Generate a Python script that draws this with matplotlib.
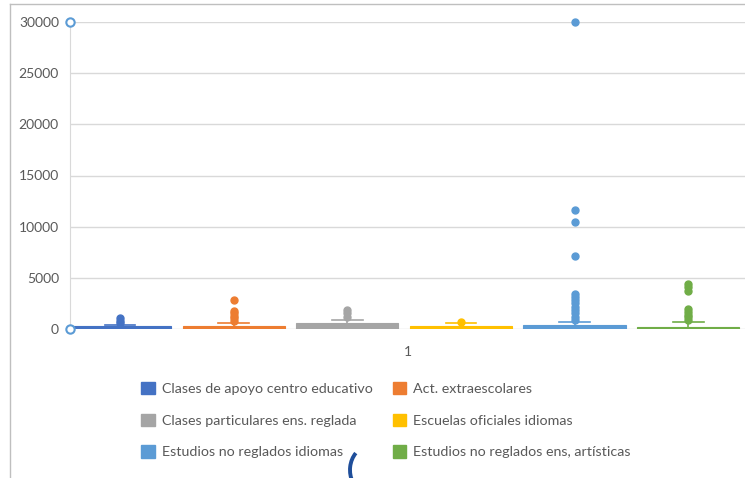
import matplotlib.pyplot as plt
from matplotlib.patches import Patch, Arc
from matplotlib.lines import Line2D

categories = [
    'Clases de apoyo centro educativo',
    'Act. extraescolares',
    'Clases particulares ens. reglada',
    'Escuelas oficiales idiomas',
    'Estudios no reglados idiomas',
    'Estudios no reglados ens, artísticas',
]
colors = ['#4472C4', '#ED7D31', '#A5A5A5', '#FFC000', '#5B9BD5', '#70AD47']

q1 = [20, 20, 20, 20, 20, 20]
medians = [120, 150, 250, 150, 200, 100]
q3 = [280, 280, 560, 280, 430, 220]
whislo = [0, 0, 0, 0, 0, 0]
whishi = [390, 560, 880, 560, 710, 650]
fliers = [
    [1050, 820, 620],
    [2830, 1790, 1530, 1270, 1050, 810],
    [1850, 1550, 1200],
    [640],
    [30000, 11600, 10450, 7150, 3420, 3130, 2830, 2510, 2180, 1860, 1530, 1200, 880],
    [4400, 4070, 3740, 1920, 1630, 1370, 1140, 880],
]
axis_markers = [0, 30000]
yticks = [0, 5000, 10000, 15000, 20000, 25000, 30000]

plt.rcParams['font.family'] = ['Lato', 'DejaVu Sans']
txt = '#595959'

fig = plt.figure(figsize=(7.45, 4.78), dpi=100)
ax = fig.add_axes([70 / 745, 1 - 329 / 478, 675 / 745, 307 / 478])

stats = []
for i in range(len(categories)):
    stats.append({'q1': q1[i], 'med': medians[i], 'q3': q3[i],
                  'whislo': whislo[i], 'whishi': whishi[i],
                  'fliers': fliers[i], 'label': categories[i]})

positions = list(range(1, len(categories) + 1))
for i, s in enumerate(stats):
    c = colors[i]
    ax.bxp([s], positions=[positions[i]], widths=0.9, patch_artist=True,
           showfliers=True,
           boxprops=dict(facecolor=c, edgecolor=c, linewidth=0.8),
           medianprops=dict(color=c, linewidth=0.8),
           whiskerprops=dict(color=c, linewidth=1.2),
           capprops=dict(color=c, linewidth=1.2),
           capwidths=0.27,
           flierprops=dict(marker='o', markerfacecolor=c, markeredgecolor=c,
                           markersize=5, clip_on=False))

xmin, xmax = 0.56, 6.5
ax.plot([xmin] * len(axis_markers), axis_markers, linestyle='none', marker='o',
        markersize=6, markerfacecolor='white', markeredgecolor='#5B9BD5',
        markeredgewidth=1.5, clip_on=False, zorder=5)

ax.set_xlim(xmin, xmax)
ax.set_ylim(0, 30000)
ax.set_yticks(yticks)
ax.set_yticklabels([str(v) for v in yticks])
ax.set_xticks([(xmin + xmax) / 2])
ax.set_xticklabels(['1'])
ax.tick_params(axis='both', length=0, colors=txt, labelsize=10)
ax.tick_params(axis='y', pad=8)
ax.tick_params(axis='x', pad=12)
ax.yaxis.grid(True, color='#d9d9d9', linewidth=1)
ax.set_axisbelow(True)
for side in ['top', 'right', 'bottom']:
    ax.spines[side].set_visible(False)
ax.spines['left'].set_color('#d9d9d9')

order = [0, 2, 4, 1, 3, 5]
handles = [Patch(facecolor=colors[i], edgecolor=colors[i]) for i in order]
labels = [categories[i] for i in order]
fig.legend(handles, labels, ncol=2, loc='upper left',
           bbox_to_anchor=(141 / 745, 1 - 382 / 478), frameon=False,
           fontsize=10.3, labelcolor=txt, handlelength=0.95, handleheight=0.95,
           handletextpad=0.5, labelspacing=1.3, columnspacing=1.4,
           borderpad=0, borderaxespad=0)

# chart area border and stray mark from the screenshot
fig.add_artist(Line2D([10 / 745, 10 / 745], [0, 1 - 4 / 478], color='#bfbfbf',
                      linewidth=1, transform=fig.transFigure))
fig.add_artist(Line2D([10 / 745, 1], [1 - 4 / 478, 1 - 4 / 478], color='#bfbfbf',
                      linewidth=1, transform=fig.transFigure))
fig.add_artist(Arc((370, 8), 40, 48, theta1=130, theta2=215, color='#1f4e9a',
                   linewidth=2.8, transform=None))

fig.savefig('out.png', dpi=100)
